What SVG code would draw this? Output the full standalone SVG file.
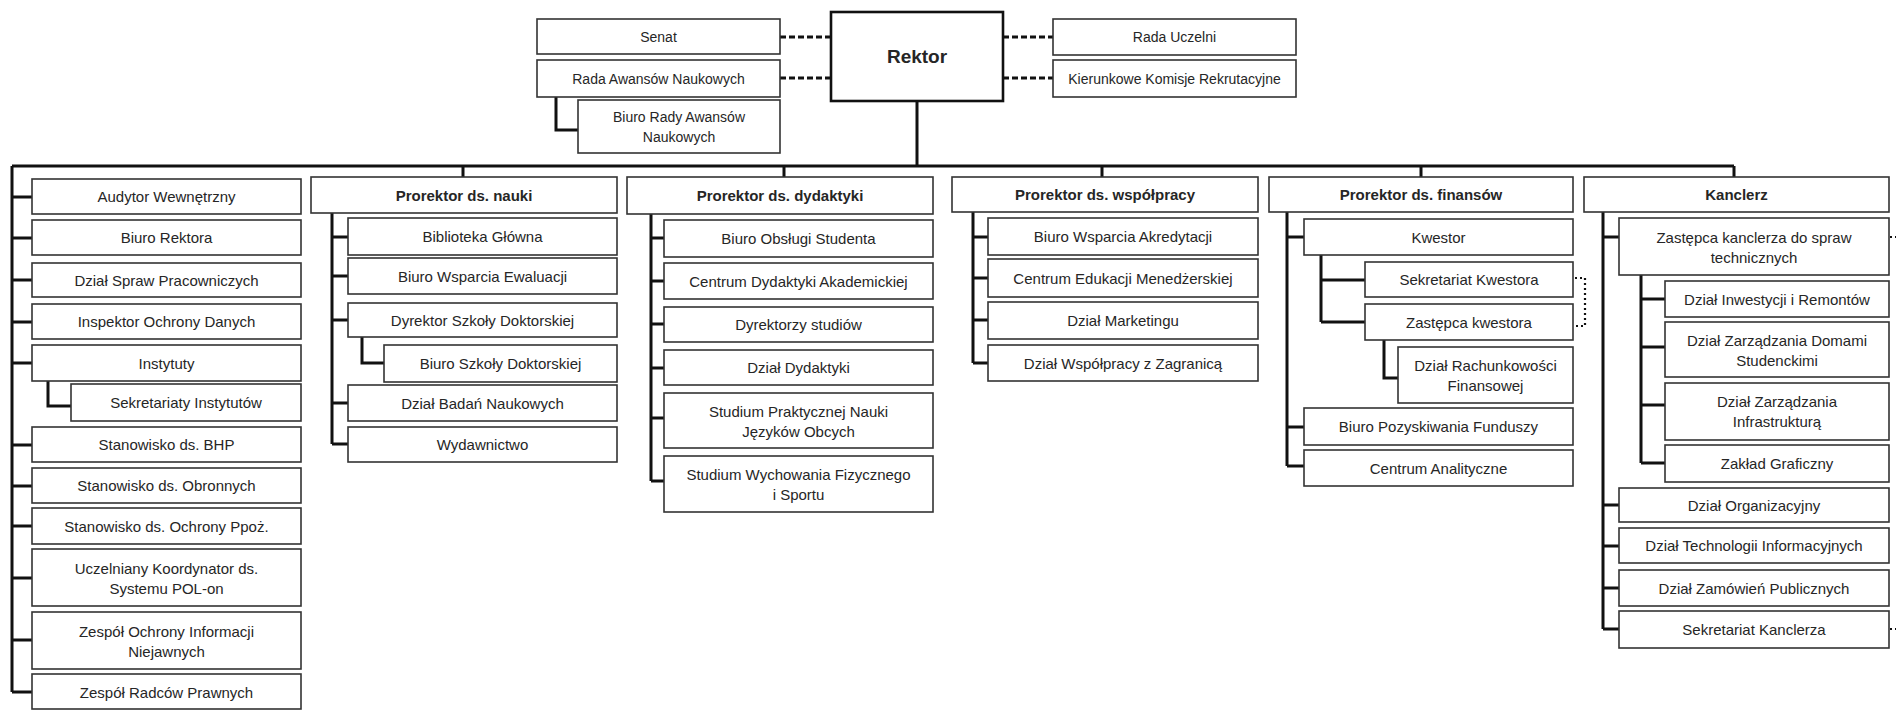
<svg xmlns="http://www.w3.org/2000/svg" width="1896" height="710" viewBox="0 0 1896 710">
<style>
rect{fill:#fff;stroke:#333;stroke-width:1.6}
text{font-family:"Liberation Sans",Arial,sans-serif;font-size:15px;fill:#262626;text-anchor:middle;dominant-baseline:central}
.t{font-size:14px}
.b{font-weight:bold}
.r{font-size:19px;font-weight:bold}
.c path{fill:none;stroke:#111;stroke-width:3}
.c .d{stroke-dasharray:6 3}
.c .o{stroke-width:2.2;stroke-dasharray:2 3}
</style>
<rect x="0" y="0" width="1896" height="710" style="fill:#fff;stroke:none"/>
<g class="c" id="connectors">
<path class="d" d="M780 37H831M780 78H831M1003 37H1053M1003 78H1053"/>
<path d="M556 97V130H578"/>
<path d="M917 101V166M12 166H1734M463 166V177M784 166V177M1102 166V177M1421 166V177M1734 166V177"/>
<path d="M12 166V692M12 197H32M12 238H32M12 280H32M12 322H32M12 363H32M12 445H32M12 486H32M12 526H32M12 578H32M12 640H32M12 692H32"/>
<path d="M48 381V406H71"/>
<path d="M332 213V444M332 237H348M332 276H348M332 320H348M332 403H348M332 444H348"/>
<path d="M362 337V363H384"/>
<path d="M651 214V481M651 238H664M651 281H664M651 324H664M651 368H664M651 418H664M651 481H664"/>
<path d="M973 212V363M973 237H988M973 278H988M973 320H988M973 363H988"/>
<path d="M1287 212V466M1287 237H1304M1287 427H1304M1287 466H1304"/>
<path d="M1321 255V322M1321 280H1365M1321 322H1365"/>
<path d="M1384 340V378H1398"/>
<path class="o" d="M1575 278H1585V326H1575"/>
<path d="M1603 212V629M1603 237H1619M1603 505H1619M1603 546H1619M1603 588H1619M1603 629H1619"/>
<path d="M1641 275V463M1641 299H1665M1641 347H1665M1641 405H1665M1641 463H1665"/>
<path class="o" d="M1890 237H1896M1890 629H1896"/>
</g>
<g id="rektor"><rect x="831" y="12" width="172" height="89" style="stroke-width:2.6;stroke:#111"/><text class="r" x="917" y="56">Rektor</text></g>
<g id="senat"><rect x="537" y="19" width="243" height="35"/><text class="t" x="658.5" y="37">Senat</text></g>
<g id="rada-awansow"><rect x="537" y="60" width="243" height="37"/><text class="t" x="658.5" y="78.5">Rada Awansów Naukowych</text></g>
<g id="biuro-rady"><rect x="578" y="100" width="202" height="53"/><text class="t" x="679" y="117">Biuro Rady Awansów</text><text class="t" x="679" y="137">Naukowych</text></g>
<g id="rada-uczelni"><rect x="1053" y="19" width="243" height="36"/><text class="t" x="1174.5" y="37">Rada Uczelni</text></g>
<g id="kierunkowe"><rect x="1053" y="60" width="243" height="37"/><text class="t" x="1174.5" y="78.5">Kierunkowe Komisje Rekrutacyjne</text></g>

<g id="audytor"><rect x="32" y="179" width="269" height="35"/><text x="166.5" y="196.5">Audytor Wewnętrzny</text></g>
<g id="biuro-rektora"><rect x="32" y="220" width="269" height="35"/><text x="166.5" y="237.5">Biuro Rektora</text></g>
<g id="dzial-spraw"><rect x="32" y="263" width="269" height="34"/><text x="166.5" y="280">Dział Spraw Pracowniczych</text></g>
<g id="inspektor"><rect x="32" y="304" width="269" height="35"/><text x="166.5" y="321.5">Inspektor Ochrony Danych</text></g>
<g id="instytuty"><rect x="32" y="345" width="269" height="36"/><text x="166.5" y="363">Instytuty</text></g>
<g id="sekretariaty"><rect x="71" y="384" width="230" height="37"/><text x="186" y="402.5">Sekretariaty Instytutów</text></g>
<g id="bhp"><rect x="32" y="427" width="269" height="35"/><text x="166.5" y="444.5">Stanowisko ds. BHP</text></g>
<g id="obronnych"><rect x="32" y="468" width="269" height="35"/><text x="166.5" y="485.5">Stanowisko ds. Obronnych</text></g>
<g id="ppoz"><rect x="32" y="508" width="269" height="36"/><text x="166.5" y="526">Stanowisko ds. Ochrony Ppoż.</text></g>
<g id="polon"><rect x="32" y="549" width="269" height="57"/><text x="166.5" y="568">Uczelniany Koordynator ds.</text><text x="166.5" y="588">Systemu POL-on</text></g>
<g id="niejawnych"><rect x="32" y="612" width="269" height="57"/><text x="166.5" y="631">Zespół Ochrony Informacji</text><text x="166.5" y="651">Niejawnych</text></g>
<g id="radcow"><rect x="32" y="674" width="269" height="35"/><text x="166.5" y="692">Zespół Radców Prawnych</text></g>

<g id="pr-nauki"><rect x="311" y="177" width="306" height="36"/><text class="b" x="464" y="195">Prorektor ds. nauki</text></g>
<g id="biblioteka"><rect x="348" y="218" width="269" height="37"/><text x="482.5" y="236.5">Biblioteka Główna</text></g>
<g id="ewaluacji"><rect x="348" y="258" width="269" height="36"/><text x="482.5" y="276">Biuro Wsparcia Ewaluacji</text></g>
<g id="dyr-szkoly"><rect x="348" y="303" width="269" height="34"/><text x="482.5" y="320">Dyrektor Szkoły Doktorskiej</text></g>
<g id="biuro-szkoly"><rect x="384" y="345" width="233" height="37"/><text x="500.5" y="363.5">Biuro Szkoły Doktorskiej</text></g>
<g id="badan"><rect x="348" y="385" width="269" height="36"/><text x="482.5" y="403">Dział Badań Naukowych</text></g>
<g id="wydawnictwo"><rect x="348" y="427" width="269" height="35"/><text x="482.5" y="444.5">Wydawnictwo</text></g>

<g id="pr-dydaktyki"><rect x="627" y="177" width="306" height="37"/><text class="b" x="780" y="195.5">Prorektor ds. dydaktyki</text></g>
<g id="bos"><rect x="664" y="220" width="269" height="37"/><text x="798.5" y="238.5">Biuro Obsługi Studenta</text></g>
<g id="cda"><rect x="664" y="263" width="269" height="36"/><text x="798.5" y="281">Centrum Dydaktyki Akademickiej</text></g>
<g id="dyrektorzy"><rect x="664" y="307" width="269" height="35"/><text x="798.5" y="324.5">Dyrektorzy studiów</text></g>
<g id="dzial-dyd"><rect x="664" y="350" width="269" height="35"/><text x="798.5" y="367.5">Dział Dydaktyki</text></g>
<g id="spnjo"><rect x="664" y="393" width="269" height="55"/><text x="798.5" y="411">Studium Praktycznej Nauki</text><text x="798.5" y="431">Języków Obcych</text></g>
<g id="swfis"><rect x="664" y="456" width="269" height="56"/><text x="798.5" y="474">Studium Wychowania Fizycznego</text><text x="798.5" y="494">i Sportu</text></g>

<g id="pr-wspolpracy"><rect x="952" y="177" width="306" height="35"/><text class="b" x="1105" y="194.5">Prorektor ds. współpracy</text></g>
<g id="akredytacji"><rect x="988" y="218" width="270" height="37"/><text x="1123" y="236.5">Biuro Wsparcia Akredytacji</text></g>
<g id="menedzerskiej"><rect x="988" y="259" width="270" height="38"/><text x="1123" y="278">Centrum Edukacji Menedżerskiej</text></g>
<g id="marketingu"><rect x="988" y="302" width="270" height="37"/><text x="1123" y="320.5">Dział Marketingu</text></g>
<g id="zagranica"><rect x="988" y="345" width="270" height="36"/><text x="1123" y="363">Dział Współpracy z Zagranicą</text></g>

<g id="pr-finansow"><rect x="1269" y="177" width="304" height="35"/><text class="b" x="1421" y="194.5">Prorektor ds. finansów</text></g>
<g id="kwestor"><rect x="1304" y="219" width="269" height="36"/><text x="1438.5" y="237">Kwestor</text></g>
<g id="sekr-kwestora"><rect x="1365" y="262" width="208" height="35"/><text x="1469" y="279.5">Sekretariat Kwestora</text></g>
<g id="zast-kwestora"><rect x="1365" y="304" width="208" height="36"/><text x="1469" y="322">Zastępca kwestora</text></g>
<g id="rachunkowosci"><rect x="1398" y="347" width="175" height="56"/><text x="1485.5" y="365">Dział Rachunkowości</text><text x="1485.5" y="385">Finansowej</text></g>
<g id="pozyskiwania"><rect x="1304" y="408" width="269" height="37"/><text x="1438.5" y="426.5">Biuro Pozyskiwania Funduszy</text></g>
<g id="analityczne"><rect x="1304" y="450" width="269" height="36"/><text x="1438.5" y="468">Centrum Analityczne</text></g>

<g id="kanclerz"><rect x="1584" y="177" width="305" height="35"/><text class="b" x="1736.5" y="194.5">Kanclerz</text></g>
<g id="zast-kanclerza"><rect x="1619" y="218" width="270" height="57"/><text x="1754" y="237">Zastępca kanclerza do spraw</text><text x="1754" y="257">technicznych</text></g>
<g id="inwestycji"><rect x="1665" y="281" width="224" height="36"/><text x="1777" y="299">Dział Inwestycji i Remontów</text></g>
<g id="domami"><rect x="1665" y="322" width="224" height="55"/><text x="1777" y="340">Dział Zarządzania Domami</text><text x="1777" y="360">Studenckimi</text></g>
<g id="infrastruktura"><rect x="1665" y="383" width="224" height="57"/><text x="1777" y="401">Dział Zarządzania</text><text x="1777" y="421">Infrastrukturą</text></g>
<g id="graficzny"><rect x="1665" y="445" width="224" height="37"/><text x="1777" y="463.5">Zakład Graficzny</text></g>
<g id="organizacyjny"><rect x="1619" y="488" width="270" height="34"/><text x="1754" y="505">Dział Organizacyjny</text></g>
<g id="technologii"><rect x="1619" y="528" width="270" height="35"/><text x="1754" y="545.5">Dział Technologii Informacyjnych</text></g>
<g id="zamowien"><rect x="1619" y="570" width="270" height="36"/><text x="1754" y="588">Dział Zamówień Publicznych</text></g>
<g id="sekr-kanclerza"><rect x="1619" y="611" width="270" height="37"/><text x="1754" y="629.5">Sekretariat Kanclerza</text></g>
</svg>
